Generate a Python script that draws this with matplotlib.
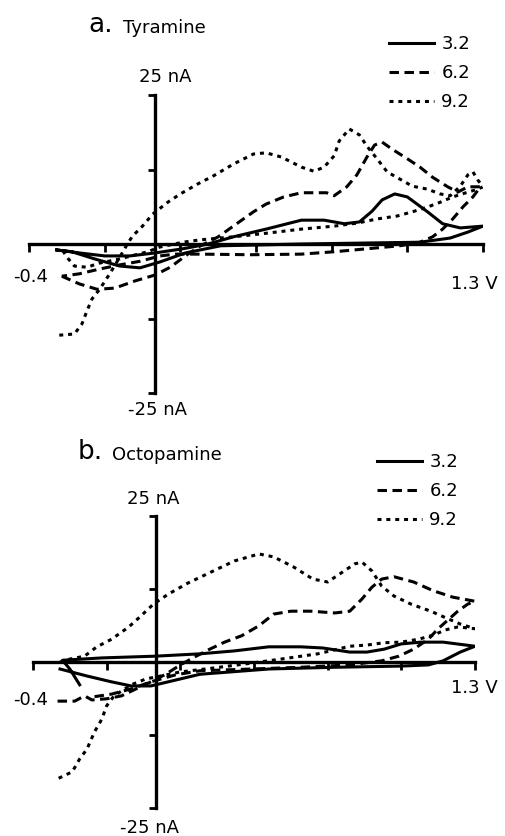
import matplotlib
matplotlib.use("Agg")
import matplotlib.pyplot as plt

# ---- data (potential in V, current in nA) ----
x_ticks = [-0.5, -0.2, 0.1, 0.4, 0.7, 1.0, 1.3]
y_ticks = [-25, -12.5, 12.5, 25]
ph_labels = ["3.2", "6.2", "9.2"]

# a. Tyramine
tyr_v_32 = [-0.39, -0.30, -0.20, -0.10, 0.00, 0.11, 0.21, 0.31, 0.44, 0.58, 0.67, 0.75, 0.81, 0.86,
            0.90, 0.95, 1.00, 1.08, 1.14, 1.21, 1.30, 1.24, 1.17, 1.05, 0.89, 0.58, 0.26, 0.12, 0.02,
            -0.06, -0.14, -0.24, -0.33, -0.39]
tyr_i_32 = [-1.0, -1.5, -2.0, -2.0, -1.5, -0.8, 0.0, 1.2, 2.5, 4.0, 4.0, 3.4, 3.7, 5.5,
            7.4, 8.4, 7.9, 5.4, 3.4, 2.7, 3.0, 2.0, 1.0, 0.3, 0.2, 0.0, -0.3, -1.5, -3.0,
            -4.0, -3.7, -2.5, -1.3, -1.0]

tyr_v_62 = [-0.37, -0.30, -0.23, -0.16, -0.08, 0.00, 0.06, 0.13, 0.18, 0.25, 0.31, 0.39, 0.44, 0.51,
            0.58, 0.68, 0.71, 0.76, 0.80, 0.84, 0.87, 0.90, 0.94, 1.00, 1.05, 1.10, 1.16, 1.20,
            1.24, 1.29, 1.26, 1.22, 1.18, 1.14, 1.10, 1.05, 0.97, 0.84, 0.71, 0.58, 0.38, 0.18,
            0.08, 0.02, -0.06, -0.14, -0.22, -0.30, -0.37]
tyr_i_62 = [-5.4, -6.7, -7.6, -7.4, -6.2, -5.2, -3.9, -1.7, -0.3, 1.2, 3.0, 5.4, 6.7, 7.9,
            8.6, 8.6, 8.1, 9.6, 11.6, 14.6, 16.6, 17.1, 15.9, 14.3, 12.9, 11.2, 9.6, 8.7,
            9.6, 9.6, 7.9, 6.2, 4.2, 2.5, 1.2, 0.3, -0.3, -0.8, -1.3, -1.7, -1.8, -1.7,
            -1.7, -2.0, -2.9, -3.5, -4.2, -5.0, -5.4]

tyr_v_92 = [-0.38, -0.32, -0.29, -0.27, -0.25, -0.22, -0.18, -0.14, -0.11, -0.09, -0.05, -0.01,
            0.05, 0.10, 0.17, 0.23, 0.31, 0.39, 0.44, 0.50, 0.58, 0.63, 0.67, 0.71, 0.73, 0.77,
            0.81, 0.84, 0.88, 0.92, 0.97, 1.02, 1.08, 1.13, 1.17, 1.21, 1.24, 1.26, 1.28, 1.30,
            1.28, 1.24, 1.18, 1.13, 1.08, 1.02, 0.96, 0.88, 0.80, 0.71, 0.58, 0.44, 0.31, 0.18,
            0.11, 0.02, -0.03, -0.14, -0.22, -0.27, -0.32, -0.35, -0.37]
tyr_i_92 = [-15.3, -15.1, -13.4, -11.2, -9.2, -7.6, -5.0, -2.2, 0.0, 1.3, 3.0, 5.0,
            7.0, 8.4, 10.1, 11.4, 13.4, 15.1, 15.3, 14.6, 12.9, 12.2, 12.9, 14.8, 17.3, 19.3,
            18.3, 16.4, 14.3, 12.1, 10.9, 9.7, 9.2, 8.4, 8.1, 9.7, 11.6, 12.1, 10.7, 9.6,
            9.2, 8.7, 7.9, 7.0, 6.2, 5.4, 4.7, 4.2, 3.5, 3.0, 2.5, 1.8, 1.2, 0.7,
            0.3, -0.5, -1.3, -2.5, -3.2, -3.9, -3.7, -2.2, -0.8]

# b. Octopamine
oct_v_32 = [-0.31, -0.35, -0.38, -0.22, 0.00, 0.18, 0.32, 0.46, 0.59, 0.68, 0.79, 0.86, 0.93,
            1.00, 1.08, 1.17, 1.30, 1.24, 1.17, 1.11, 1.00, 0.73, 0.46, 0.18, 0.05, -0.02,
            -0.10, -0.18, -0.28, -0.39]
oct_i_32 = [-3.9, -1.2, 0.3, 0.7, 1.0, 1.4, 1.9, 2.6, 2.6, 2.4, 1.7, 1.7, 2.2,
            3.1, 3.4, 3.4, 2.7, 1.7, 0.2, -0.5, -0.7, -0.9, -1.2, -2.1, -3.4, -4.1,
            -4.1, -3.4, -2.4, -1.2]

oct_v_62 = [-0.40, -0.33, -0.29, -0.26, -0.20, -0.14, -0.08, -0.02, 0.04, 0.10, 0.16, 0.22, 0.28,
            0.35, 0.42, 0.48, 0.55, 0.63, 0.73, 0.79, 0.84, 0.88, 0.92, 0.97, 1.05, 1.13, 1.21,
            1.30, 1.27, 1.23, 1.19, 1.15, 1.11, 1.05, 0.99, 0.92, 0.79, 0.59, 0.39, 0.18, 0.08,
            -0.02, -0.10, -0.18, -0.26]
oct_i_62 = [-6.7, -6.7, -5.8, -6.5, -6.3, -5.8, -4.6, -3.4, -2.1, -0.5, 0.9, 2.2, 3.4,
            4.5, 6.2, 8.2, 8.7, 8.7, 8.4, 8.7, 10.8, 12.8, 14.2, 14.6, 13.7, 12.2, 11.1,
            10.4, 9.9, 8.7, 7.2, 5.7, 3.9, 2.2, 1.0, 0.2, -0.5, -0.9, -1.2, -1.5, -2.2,
            -3.4, -4.6, -5.5, -6.0]

oct_v_92 = [-0.39, -0.35, -0.29, -0.24, -0.18, -0.11, -0.06, -0.01, 0.05, 0.13, 0.21, 0.32, 0.42,
            0.48, 0.56, 0.64, 0.70, 0.75, 0.81, 0.84, 0.88, 0.92, 0.97, 1.04, 1.12, 1.19, 1.24,
            1.30, 1.23, 1.18, 1.13, 1.07, 1.00, 0.93, 0.86, 0.79, 0.66, 0.51, 0.37, 0.24, 0.10,
            0.02, -0.04, -0.10, -0.17, -0.20, -0.22, -0.25, -0.28, -0.31, -0.34, -0.40]
oct_i_92 = [0.0, 0.5, 1.0, 2.6, 3.9, 6.0, 7.9, 9.9, 11.6, 13.5, 15.1, 17.3, 18.5,
            18.0, 16.3, 14.2, 13.7, 15.1, 16.8, 17.1, 15.6, 13.0, 11.3, 9.9, 8.7, 7.4, 6.5,
            5.7, 6.0, 5.5, 4.6, 3.9, 3.4, 3.3, 2.9, 2.7, 1.4, 0.5, -0.3, -1.0, -1.7,
            -2.4, -2.9, -3.9, -5.8, -7.5, -9.8, -12.0, -14.9, -16.6, -18.8, -20.0]

styles = [dict(linestyle="-"),
          dict(linestyle=(0, (3.1, 1.8))),
          dict(linestyle=(0, (1.3, 1.6)))]

W, H = 505, 836
fig = plt.figure(figsize=(W / 100, H / 100), dpi=100)


def px_box(x0, x1, ytop, ybot):
    return [x0 / W, 1 - ybot / H, (x1 - x0) / W, (ybot - ytop) / H]


def setup(ax):
    ax.set_xlim(-0.5, 1.3)
    ax.set_ylim(-25, 25)
    ax.patch.set_visible(False)
    for s in ["top", "right"]:
        ax.spines[s].set_visible(False)
    ax.spines["left"].set_position(("data", 0))
    ax.spines["bottom"].set_position(("data", 0))
    for s in ["left", "bottom"]:
        ax.spines[s].set_linewidth(2.4)
    ax.set_xticks(x_ticks)
    ax.set_yticks(y_ticks)
    ax.tick_params(axis="x", direction="out", length=6, width=2, labelbottom=False)
    ax.tick_params(axis="y", direction="out", length=5, width=2, labelleft=False)


def panel(ax, curves, leg_anchor):
    setup(ax)
    handles = []
    for (v, i), st, lab in zip(curves, styles, ph_labels):
        h, = ax.plot(v, i, color="black", lw=2.2, label=lab, **st)
        handles.append(h)
    ax.legend(handles=handles, loc="upper left", bbox_to_anchor=leg_anchor,
              bbox_transform=fig.transFigure, frameon=False, fontsize=13,
              handlelength=2.5, handletextpad=0.4, labelspacing=0.62,
              borderpad=0, borderaxespad=0)


axa = fig.add_axes(px_box(29, 483, 95, 393))
panel(axa, [(tyr_v_32, tyr_i_32), (tyr_v_62, tyr_i_62), (tyr_v_92, tyr_i_92)],
      (389 / W, 1 - 35 / H))

axb = fig.add_axes(px_box(33, 475, 516, 808))
panel(axb, [(oct_v_32, oct_i_32), (oct_v_62, oct_i_62), (oct_v_92, oct_i_92)],
      (377 / W, 1 - 453 / H))


def ftext(x, y, s, **kw):
    fig.text(x / W, 1 - y / H, s, **kw)


lab = dict(fontsize=13, va="center", ha="center")
# panel a labels
ftext(88, 25, "a.", fontsize=19, va="center", ha="left")
ftext(123, 28, "Tyramine", fontsize=13, va="center", ha="left")
ftext(165, 77, "25 nA", **lab)
ftext(157, 410, "-25 nA", **lab)
ftext(31, 277, "-0.4", **lab)
ftext(474, 284, "1.3 V", **lab)
# panel b labels
ftext(78, 452, "b.", fontsize=19, va="center", ha="left")
ftext(112, 455, "Octopamine", fontsize=13, va="center", ha="left")
ftext(153, 499, "25 nA", **lab)
ftext(149, 828, "-25 nA", **lab)
ftext(31, 700, "-0.4", **lab)
ftext(474, 688, "1.3 V", **lab)

fig.savefig("out.png", dpi=100)
